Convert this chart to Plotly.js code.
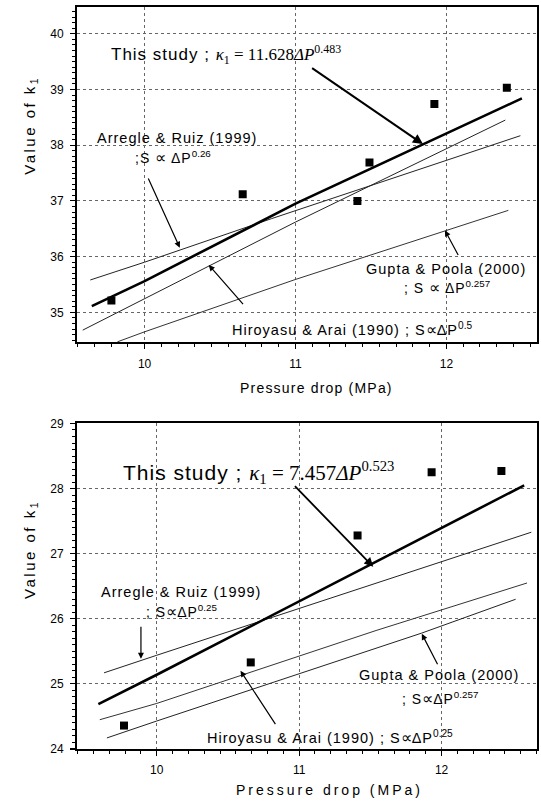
<!DOCTYPE html>
<html>
<head>
<meta charset="utf-8">
<script src="https://cdn.plot.ly/plotly-3.0.1.min.js"></script>
<style>html,body{margin:0;padding:0;background:#fff;}</style>
</head>
<body>
<div id="chart" style="width:541px;height:807px;"></div>
<script>
// ---------- data: upper panel ----------
const topPtsX = [9.78, 10.65, 11.41, 11.49, 11.92, 12.40];
const topPtsY = [35.21, 37.12, 37.00, 37.69, 38.74, 39.03];
const topStudyX = [9.65, 10.0, 11.0, 12.50];
const topStudyY = [35.11, 35.56, 36.95, 38.84];
const topArregleX = [9.64, 10.0, 10.84, 12.49];
const topArregleY = [35.58, 35.90, 36.68, 38.17];
const topHiroX = [9.59, 10.0, 11.0, 12.39];
const topHiroY = [34.68, 35.24, 36.62, 38.45];
const topGuptaX = [9.82, 10.0, 11.0, 12.41];
const topGuptaY = [34.47, 34.65, 35.59, 36.83];

// ---------- data: lower panel ----------
const botPtsX = [9.77, 10.66, 11.41, 11.93, 12.42];
const botPtsY = [24.36, 25.33, 27.28, 28.25, 28.27];
const botStudyX = [9.59, 10.0, 12.58];
const botStudyY = [24.69, 25.14, 28.05];
const botArregleX = [9.63, 10.0, 12.63];
const botArregleY = [25.17, 25.44, 27.33];
const botHiroX = [9.60, 10.0, 11.54, 12.60];
const botHiroY = [24.45, 24.70, 25.82, 26.55];
const botGuptaX = [9.65, 10.0, 11.86, 12.52];
const botGuptaY = [24.17, 24.43, 25.78, 26.30];

const tickVals = [10, 11, 12];
const topYTicks = [35, 36, 37, 38, 39, 40];
const botYTicks = [24, 25, 26, 27, 28, 29];

const SANS = 'Liberation Sans, Arial, sans-serif';

function line(x, y, ax, ay, w, c) {
  return {x: x, y: y, xaxis: ax, yaxis: ay, mode: 'lines', type: 'scatter',
          line: {color: c, width: w}, showlegend: false, hoverinfo: 'skip'};
}
function pts(x, y, ax, ay) {
  return {x: x, y: y, xaxis: ax, yaxis: ay, mode: 'markers', type: 'scatter',
          marker: {symbol: 'square', size: 8, color: '#000'}, showlegend: false};
}

const data = [
  line(topArregleX, topArregleY, 'x', 'y', 1, '#222'),
  line(topHiroX, topHiroY, 'x', 'y', 1, '#222'),
  line(topGuptaX, topGuptaY, 'x', 'y', 1, '#333'),
  line(topStudyX, topStudyY, 'x', 'y', 2.6, '#000'),
  pts(topPtsX, topPtsY, 'x', 'y'),
  line(botArregleX, botArregleY, 'x2', 'y2', 1, '#222'),
  line(botHiroX, botHiroY, 'x2', 'y2', 1, '#333'),
  line(botGuptaX, botGuptaY, 'x2', 'y2', 1, '#222'),
  line(botStudyX, botStudyY, 'x2', 'y2', 2.6, '#000'),
  pts(botPtsX, botPtsY, 'x2', 'y2')
];

function xax(range, anchor) {
  return {range: range, anchor: anchor, domain: [0, 1], tickvals: tickVals,
    showgrid: true, gridcolor: '#666', griddash: 'dot', gridwidth: 1,
    showline: true, linecolor: '#000', linewidth: 2, mirror: true,
    ticks: 'outside', ticklen: 5, tickwidth: 1.2, tickcolor: '#000',
    minor: {dtick: 1/9, ticks: 'outside', ticklen: 3, tickcolor: '#000', tickwidth: 1, showgrid: false},
    ticklabelstandoff: 4,
    tickfont: {family: SANS, size: 12, color: '#000'}, zeroline: false};
}
function yax(range, anchor, domain, tv) {
  return {range: range, anchor: anchor, domain: domain, tickvals: tv,
    showgrid: true, gridcolor: '#666', griddash: 'dot', gridwidth: 1,
    showline: true, linecolor: '#000', linewidth: 2, mirror: true,
    ticks: 'outside', ticklen: 5, tickwidth: 1.2, tickcolor: '#000',
    minor: {dtick: 0.1, ticks: 'outside', ticklen: 3, tickcolor: '#000', tickwidth: 1, showgrid: false},
    ticklabelstandoff: 4,
    tickfont: {family: SANS, size: 12, color: '#000'}, zeroline: false};
}

function txt(x, y, xr, yr, text, size) {
  return {x: x, y: y, xref: xr, yref: yr, text: text, showarrow: false,
          xanchor: 'left', yanchor: 'middle', font: {family: SANS, size: size, color: '#000'}};
}
function arrow(hx, hy, tx, ty, xr, yr, w) {
  return {x: hx, y: hy, ax: tx, ay: ty, xref: xr, yref: yr, axref: xr, ayref: yr,
          text: '', showarrow: true, arrowhead: 2, arrowsize: 1, arrowwidth: w,
          arrowcolor: '#000', standoff: 0, startstandoff: 0};
}
const sp = (s, ls) => '<span style="letter-spacing:' + ls + 'px">' + s + '</span>';
const PROP = '<span style="font-size:16px">∝</span>';

const annotations = [
  // ----- upper panel -----
  txt(9.767, 39.62, 'x', 'y',
      sp('This study ; ', 1) + "<span style=\"font-family:'Liberation Serif'\"><i>κ</i><sub>1</sub> = 11.628<i>ΔP</i><sup>0.483</sup></span>", 17),
  arrow(11.844, 38.02, 11.10, 39.40, 'x', 'y', 2),
  txt(9.671, 38.12, 'x', 'y', sp('Arregle &amp; Ruiz (1999)', 1), 14.5),
  txt(9.926, 37.79, 'x', 'y', sp(';S ', 1) + PROP + sp(' ΔP', 1) + '<sup>0.26</sup>', 14),
  arrow(10.233, 36.16, 10.02, 37.43, 'x', 'y', 1.2),
  txt(10.565, 34.70, 'x', 'y', sp('Hiroyasu &amp; Arai (1990) ; S', 1) + PROP + sp('ΔP', 1) + '<sup>0.5</sup>', 14.5),
  arrow(10.425, 35.85, 10.661, 35.12, 'x', 'y', 1.2),
  txt(11.455, 35.78, 'x', 'y', sp('Gupta &amp; Poola (2000)', 1), 14.5),
  txt(11.703, 35.46, 'x', 'y', sp('; S ', 1) + PROP + sp(' ΔP', 1) + '<sup>0.257</sup>', 14),
  arrow(11.99, 36.47, 12.083, 36.0, 'x', 'y', 1.2),
  // ----- lower panel -----
  txt(9.75, 28.24, 'x2', 'y2',
      sp('This study ; ', 1) + "<span style=\"font-family:'Liberation Serif'\"><i>κ</i><sub>1</sub> = 7.457<i>ΔP</i><sup>0.523</sup></span>", 21),
  arrow(11.52, 26.80, 10.96, 28.06, 'x2', 'y2', 1.8),
  txt(9.595, 26.41, 'x2', 'y2', sp('Arregle &amp; Ruiz (1999)', 1), 14.5),
  txt(9.912, 26.12, 'x2', 'y2', sp('; S', 1) + PROP + sp('ΔP', 1) + '<sup>0.25</sup>', 14),
  arrow(9.889, 25.385, 9.889, 25.90, 'x2', 'y2', 1.2),
  txt(10.342, 24.19, 'x2', 'y2', sp('Hiroyasu &amp; Arai (1990) ; S', 1) + PROP + sp('ΔP', 1) + '<sup>0.25</sup>', 14.5),
  arrow(10.588, 25.20, 10.84, 24.36, 'x2', 'y2', 1.2),
  txt(11.409, 25.14, 'x2', 'y2', sp('Gupta &amp; Poola (2000)', 1), 14.5),
  txt(11.708, 24.79, 'x2', 'y2', sp('; S', 1) + PROP + sp('ΔP', 1) + '<sup>0.257</sup>', 14),
  arrow(11.861, 25.77, 11.977, 25.28, 'x2', 'y2', 1.2),
  // ----- axis titles -----
  {x: -0.1, y: 0.8386, xref: 'paper', yref: 'paper', textangle: -90, showarrow: false,
   xanchor: 'center', yanchor: 'middle', text: sp('Value of k', 2.5) + '<sub>1</sub>',
   font: {family: SANS, size: 15, color: '#000'}},
  {x: -0.1, y: 0.267, xref: 'paper', yref: 'paper', textangle: -90, showarrow: false,
   xanchor: 'center', yanchor: 'middle', text: sp('Value of k', 2.5) + '<sub>1</sub>',
   font: {family: SANS, size: 15, color: '#000'}},
  {x: 0.521, y: 0.4865, xref: 'paper', yref: 'paper', showarrow: false,
   xanchor: 'center', yanchor: 'middle', text: sp('Pressure drop (MPa)', 1.2),
   font: {family: SANS, size: 14, color: '#000'}},
  {x: 0.548, y: -0.0553, xref: 'paper', yref: 'paper', showarrow: false,
   xanchor: 'center', yanchor: 'middle', text: sp('Pressure drop (MPa)', 3),
   font: {family: SANS, size: 14, color: '#000'}}
];

const layout = {
  width: 541, height: 807,
  margin: {l: 77, r: 4, t: 7, b: 58},
  paper_bgcolor: '#fff', plot_bgcolor: '#fff',
  showlegend: false,
  xaxis: xax([9.552, 12.6], 'y'),
  yaxis: yax([34.46, 40.48], 'x', [0.548, 1], topYTicks),
  xaxis2: xax([9.44, 12.67], 'y2'),
  yaxis2: yax([24, 29], 'x2', [0, 0.4387], botYTicks),
  annotations: annotations
};

Plotly.newPlot('chart', data, layout, {staticPlot: true, displayModeBar: false});
</script>
</body>
</html>
